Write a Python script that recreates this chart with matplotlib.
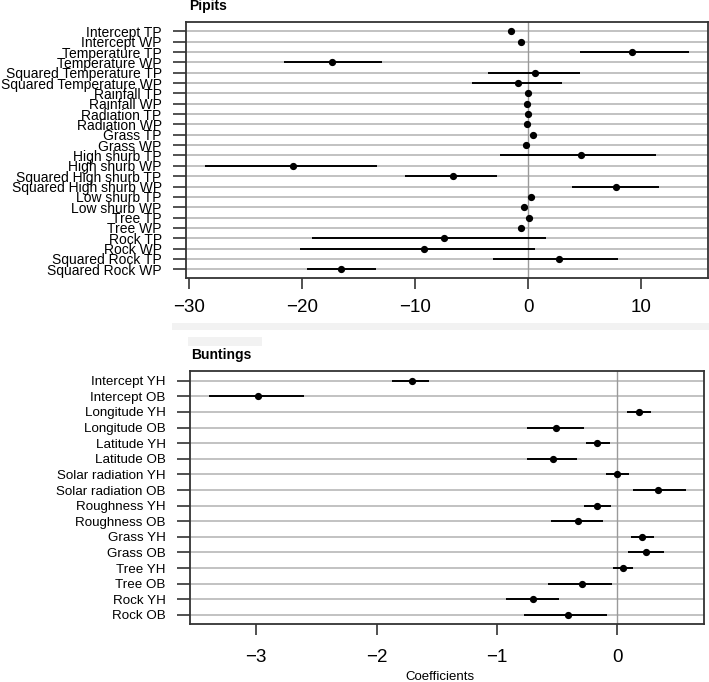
import numpy as np
import matplotlib
matplotlib.use("Agg")
from matplotlib import pyplot as plt
from matplotlib.patches import Rectangle

plt.rcParams['font.family'] = ['Liberation Sans', 'DejaVu Sans']

# Pipits coefficients (estimate, lower, upper)
pipit_labels = ["Intercept TP", "Intercept WP", "Temperature TP", "Temperature WP",
                "Squared Temperature TP", "Squared Temperature WP", "Rainfall TP", "Rainfall WP",
                "Radiation TP", "Radiation WP", "Grass TP", "Grass WP",
                "High shurb TP", "High shurb WP", "Squared High shurb TP", "Squared High shurb WP",
                "Low shurb TP", "Low shurb WP", "Tree TP", "Tree WP",
                "Rock TP", "Rock WP", "Squared Rock TP", "Squared Rock WP"]
pipit_est = [-1.5, -0.65, 9.2, -17.35, 0.56, -0.95, -0.06, -0.1, 0.0, -0.12, 0.4, -0.2,
             4.63, -20.8, -6.7, 7.8, 0.27, -0.35, 0.1, -0.65, -7.47, -9.2, 2.68, -16.6]
pipit_lo = [-1.6, -0.75, 4.54, -21.6, -3.6, -5.0, -0.15, -0.2, -0.1, -0.22, 0.3, -0.3,
            -2.5, -28.6, -10.9, 3.83, 0.17, -0.45, 0.0, -0.75, -19.15, -20.2, -3.1, -19.6]
pipit_hi = [-1.4, -0.55, 14.2, -12.95, 4.57, 2.97, 0.04, 0.0, 0.1, -0.02, 0.5, -0.1,
            11.3, -13.4, -2.8, 11.6, 0.37, -0.25, 0.2, -0.55, 1.6, 0.58, 7.9, -13.5]
pipit_ticks = [-30, -20, -10, 0, 10]

# Buntings coefficients
bunt_labels = ["Intercept YH", "Intercept OB", "Longitude YH", "Longitude OB",
               "Latitude YH", "Latitude OB", "Solar radiation YH", "Solar radiation OB",
               "Roughness YH", "Roughness OB", "Grass YH", "Grass OB",
               "Tree YH", "Tree OB", "Rock YH", "Rock OB"]
bunt_est = [-1.708, -2.985, 0.183, -0.507, -0.166, -0.537, 0.0, 0.34,
            -0.166, -0.324, 0.208, 0.241, 0.047, -0.29, -0.70, -0.412]
bunt_lo = [-1.87, -3.39, 0.083, -0.75, -0.262, -0.75, -0.096, 0.128,
           -0.274, -0.548, 0.114, 0.091, -0.038, -0.58, -0.927, -0.775]
bunt_hi = [-1.567, -2.6, 0.28, -0.277, -0.06, -0.335, 0.1, 0.568,
           -0.055, -0.116, 0.302, 0.39, 0.133, -0.044, -0.487, -0.083]
bunt_ticks = [-3, -2, -1, 0]

W, H = 709, 682


def px_axes(fig, left, top, right, bottom):
  return fig.add_axes([left / W, 1 - bottom / H, (right - left) / W, (bottom - top) / H])


def forest(ax, labels, est, lo, hi, ticks, xlim, ymarg, ysize, ms, xpad):
  y = np.arange(len(labels))
  for yy in y:
    ax.axhline(yy, color='#bdbdbd', lw=1.3, zorder=1)
  ax.axvline(0, color='#9a9a9a', lw=1.0, zorder=1)
  ax.hlines(y, lo, hi, color='black', lw=1.4, zorder=2)
  ax.plot(est, y, 'o', color='black', ms=ms, zorder=3)
  ax.set_xlim(*xlim)
  ax.set_ylim(len(labels) - 1 + ymarg[1], -ymarg[0])
  ax.set_yticks(y)
  ax.set_yticklabels(labels, fontsize=ysize)
  ax.set_xticks(ticks)
  ax.tick_params(axis='x', labelsize=13.5, length=8, width=1.2, pad=xpad, color='#333333')
  ax.tick_params(axis='y', length=9.5, width=1.2, pad=8, color='#333333')
  for s in ax.spines.values():
    s.set_color('#333333')
    s.set_linewidth(1.3)


fig = plt.figure(figsize=(W / 100, H / 100), dpi=100)

ax1 = px_axes(fig, 186, 22, 708, 278)
forest(ax1, pipit_labels, pipit_est, pipit_lo, pipit_hi, pipit_ticks,
       (-30.3, 15.9), (0.9, 0.84), 10, 4.2, 7)

ax2 = px_axes(fig, 190, 371, 704, 624)
forest(ax2, bunt_labels, bunt_est, bunt_lo, bunt_hi, bunt_ticks,
       (-3.55, 0.72), (0.62, 0.58), 9.6, 4.2, 10)

fig.text(189 / W, 1 - 10 / H, "Pipits", fontsize=10, fontweight='bold', va='baseline')
fig.text(191 / W, 1 - 359 / H, "Buntings", fontsize=10, fontweight='bold', va='baseline')
fig.text(440 / W, 1 - 677 / H, "Coefficients", fontsize=9.5, ha='center', va='center')

# faint gray strips left over in the source image
fig.add_artist(Rectangle((172 / W, 1 - 329.5 / H), (709 - 172) / W, 7 / H,
                         transform=fig.transFigure, color='#f2f2f2', lw=0))
fig.add_artist(Rectangle((188 / W, 1 - 346 / H), 74 / W, 9 / H,
                         transform=fig.transFigure, color='#f2f2f2', lw=0))

fig.savefig("out.png", dpi=100)
